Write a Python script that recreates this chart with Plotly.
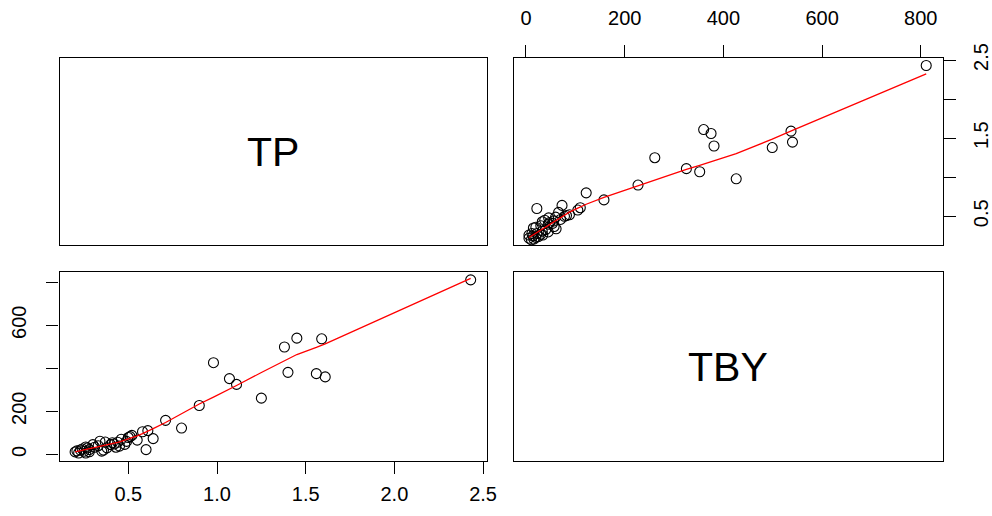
import numpy as np
import plotly.graph_objects as go

# ---- data ----
TP = [2.43, 1.45, 1.59, 1.38, 0.98, 1.40, 1.56, 1.61, 1.07, 1.11,
      1.25, 0.90, 0.71, 0.80, 0.64, 0.61, 0.58, 0.60, 0.55, 0.51,
      0.50, 0.48, 0.45, 0.43, 0.41, 0.37, 0.34, 0.35, 0.31, 0.28,
      0.26, 0.23, 0.20, 0.26, 0.22, 0.52, 0.40, 0.44, 0.30, 0.24,
      0.21, 0.33, 0.38, 0.28, 0.25, 0.46, 0.42, 0.36, 0.27, 0.49]
TBY = [811, 540, 537, 499, 426, 381, 375, 360, 352, 325,
       261, 227, 158, 122, 73, 110, 105, 22, 66, 82,
       78, 46, 38, 33, 54, 57, 61, 15, 33, 22,
       34, 20, 11, 6, 6, 88, 45, 56, 45, 25,
       16, 40, 30, 12, 14, 70, 48, 20, 30, 60]
var_names = ["TP", "TBY"]
tp_ticks = [0.5, 1.0, 1.5, 2.0, 2.5]
tp_ticktext_right = ["0.5", "", "1.5", "", "2.5"]
tby_ticks = [0, 200, 400, 600, 800]
tby_ticktext_left = ["0", "200", "", "600", ""]


def lowess(x, y, f=2/3, iters=3):
    x = np.asarray(x, float); y = np.asarray(y, float)
    o = np.argsort(x, kind="stable"); x = x[o]; y = y[o]
    n = len(x)
    ns = max(min(int(round(f * n)), n), 2)
    rw = np.ones(n)
    fit = np.zeros(n)
    for it in range(iters + 1):
        for i in range(n):
            d = np.abs(x - x[i])
            h = np.sort(d)[ns - 1]
            if h > 0:
                r = d / h
                w = np.where(r < 1, (1 - r ** 3) ** 3, 0.0)
            else:
                w = (d == 0).astype(float)
            w = w * rw
            sw = w.sum()
            if sw <= 0:
                fit[i] = y[i]; continue
            a = (w * x).sum() / sw
            b = (w * (x - a) ** 2).sum()
            if b > 1e-12:
                slope = (w * (x - a) * y).sum() / b
                fit[i] = (w * y).sum() / sw + slope * (x[i] - a)
            else:
                fit[i] = (w * y).sum() / sw
        if it == iters:
            break
        res = y - fit
        cmad = 6 * np.median(np.abs(res))
        if cmad < 1e-7 * np.mean(np.abs(y)):
            break
        u = np.abs(res) / cmad
        rw = np.where(u < 1, (1 - u ** 2) ** 2, 0.0)
    return x, fit


W, H = 992, 516
colL = [59.5 / W, 487 / W]
colR = [514 / W, 942.7 / W]
rowT = [1 - 245 / H, 1 - 58.3 / H]
rowB = [1 - 461.3 / H, 1 - 271.7 / H]

fig = go.Figure()
marker = dict(symbol="circle-open", size=10, color="black", line=dict(width=1.1, color="black"))

# upper-right: x = TBY, y = TP
fig.add_trace(go.Scatter(x=TBY, y=TP, mode="markers", marker=marker, xaxis="x2", yaxis="y2", showlegend=False))
lx, ly = lowess(TBY, TP)
fig.add_trace(go.Scatter(x=lx, y=ly, mode="lines", line=dict(color="red", width=1.3), xaxis="x2", yaxis="y2", showlegend=False))

# lower-left: x = TP, y = TBY
fig.add_trace(go.Scatter(x=TP, y=TBY, mode="markers", marker=marker, xaxis="x3", yaxis="y3", showlegend=False))
lx, ly = lowess(TP, TBY)
fig.add_trace(go.Scatter(x=lx, y=ly, mode="lines", line=dict(color="red", width=1.3), xaxis="x3", yaxis="y3", showlegend=False))

# diagonal panels (empty)
fig.add_trace(go.Scatter(x=[], y=[], xaxis="x", yaxis="y", showlegend=False))
fig.add_trace(go.Scatter(x=[], y=[], xaxis="x4", yaxis="y4", showlegend=False))

font = dict(family="Liberation Sans, Arial, sans-serif", size=20, color="black")
box = dict(showline=True, mirror=True, linecolor="black", linewidth=1.2,
           showgrid=False, zeroline=False, tickfont=font, ticks="outside",
           ticklen=12, tickcolor="black", tickwidth=1.2, automargin=False)
blank = dict(showline=True, mirror=True, linecolor="black", linewidth=1.2,
             showgrid=False, zeroline=False, showticklabels=False, ticks="",
             range=[0, 1], fixedrange=True, automargin=False)

fig.update_layout(
    width=W, height=H, margin=dict(l=0, r=0, t=0, b=0, autoexpand=False),
    paper_bgcolor="white", plot_bgcolor="white", font=font,
    xaxis=dict(domain=colL, anchor="y", **blank),
    yaxis=dict(domain=rowT, anchor="x", **blank),
    xaxis4=dict(domain=colR, anchor="y4", **blank),
    yaxis4=dict(domain=rowB, anchor="x4", **blank),
    xaxis2=dict(domain=colR, anchor="y2", side="top", range=[-24.3, 844.4],
                tickvals=tby_ticks, ticktext=[str(v) for v in tby_ticks],
                ticklabelstandoff=12, **box),
    yaxis2=dict(domain=rowT, anchor="x2", side="right", range=[0.133, 2.522],
                tickvals=tp_ticks, ticktext=tp_ticktext_right, tickangle=-90,
                ticklabelstandoff=8, **box),
    xaxis3=dict(domain=colL, anchor="y3", range=[0.112, 2.522],
                tickvals=tp_ticks, ticktext=[f"{v:.1f}" for v in tp_ticks],
                ticklabelstandoff=3, **box),
    yaxis3=dict(domain=rowB, anchor="x3", range=[-32.5, 849],
                tickvals=tby_ticks, ticktext=tby_ticktext_left, tickangle=-90,
                ticklabelstandoff=12, **box),
    annotations=[
        dict(text=var_names[0], xref="x domain", yref="y domain", x=0.5, y=0.5,
             showarrow=False, font=dict(family="Liberation Sans, Arial, sans-serif", size=41, color="black")),
        dict(text=var_names[1], xref="x4 domain", yref="y4 domain", x=0.5, y=0.5,
             showarrow=False, font=dict(family="Liberation Sans, Arial, sans-serif", size=41, color="black")),
    ],
)

fig.write_html("out.html", config={"displayModeBar": False},
               post_script="document.body.style.margin='0px';document.body.style.overflow='hidden';")
